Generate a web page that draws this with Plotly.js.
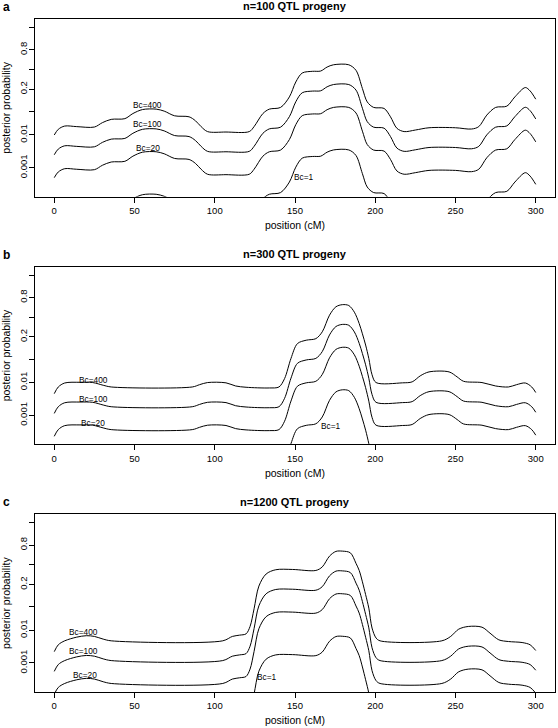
<!DOCTYPE html>
<html><head><meta charset="utf-8">
<script src="https://cdn.plot.ly/plotly-3.0.1.min.js"></script>
<style>html,body{margin:0;padding:0;background:#fff}#chart{width:558px;height:728px}</style>
</head><body><div id="chart"></div>
<script>
// ---- Data: positions (cM) and posterior log-odds ----
// Panel a: n=100 QTL progeny
const posA = [0,2.5,6.5,14,25,30,35.5,44,49,55,63.5,68.5,75,84,88,91.5,95.5,107,121.5,124.5,130,134,141,146.5,150.5,154.5,161,166,170,174,183.5,188,192,195,199,205.5,209.5,213.5,218,225,233.5,250,260,264.5,269.5,275,282,287,293.5,296.5,300];
const a_Bc400 = [-4.61,-4.21,-3.98,-4.02,-4.05,-3.74,-3.51,-3.46,-3.10,-2.82,-2.79,-2.93,-3.26,-3.33,-3.61,-4.02,-4.37,-4.40,-4.37,-4.02,-3.10,-2.79,-2.67,-1.93,-0.88,-0.25,-0.13,-0.11,0.17,0.33,0.33,-0.06,-1.34,-2.28,-2.67,-2.74,-3.33,-4.14,-4.37,-4.26,-4.10,-4.10,-4.19,-4.02,-3.21,-2.67,-2.58,-1.93,-1.27,-1.51,-2.09];
const a_Bc100 = [-6.00,-5.60,-5.37,-5.41,-5.44,-5.13,-4.90,-4.85,-4.49,-4.21,-4.18,-4.32,-4.65,-4.72,-5.00,-5.41,-5.76,-5.79,-5.76,-5.41,-4.49,-4.18,-4.06,-3.32,-2.27,-1.64,-1.52,-1.50,-1.22,-1.06,-1.06,-1.45,-2.73,-3.67,-4.06,-4.13,-4.72,-5.53,-5.76,-5.65,-5.49,-5.49,-5.58,-5.41,-4.60,-4.06,-3.97,-3.32,-2.66,-2.90,-3.48];
const a_Bc20 = [-7.61,-7.21,-6.98,-7.02,-7.05,-6.74,-6.51,-6.46,-6.10,-5.82,-5.79,-5.93,-6.26,-6.33,-6.61,-7.02,-7.37,-7.40,-7.37,-7.02,-6.10,-5.79,-5.67,-4.93,-3.88,-3.25,-3.13,-3.11,-2.83,-2.67,-2.67,-3.06,-4.34,-5.28,-5.67,-5.74,-6.33,-7.14,-7.37,-7.26,-7.10,-7.10,-7.19,-7.02,-6.21,-5.67,-5.58,-4.93,-4.27,-4.51,-5.09];
const a_Bc1 = [-10.60,-10.20,-9.97,-10.01,-10.04,-9.73,-9.50,-9.45,-9.09,-8.81,-8.78,-8.92,-9.25,-9.32,-9.60,-10.01,-10.36,-10.39,-10.36,-10.01,-9.09,-8.78,-8.66,-7.92,-6.87,-6.24,-6.12,-6.10,-5.82,-5.66,-5.66,-6.05,-7.33,-8.27,-8.66,-8.73,-9.32,-10.13,-10.36,-10.25,-10.09,-10.09,-10.18,-10.01,-9.20,-8.66,-8.57,-7.92,-7.26,-7.50,-8.08];

// Panel b: n=300 QTL progeny
const posB = [0,2.5,6.5,16,24,30.5,35.5,86,90.5,95.5,107,113,119.5,134,140,143.5,147.5,151.5,157,163,167,171.5,175.5,179.5,183.5,187,190,192,194,196,198,200.5,217,223,228,233.5,246,251,255,266.5,275,283,288,293.5,297.5,300];
const b_Bc400 = [-5.38,-4.91,-4.63,-4.58,-4.60,-4.79,-4.91,-4.91,-4.75,-4.60,-4.62,-4.84,-4.93,-4.98,-4.91,-4.32,-2.90,-1.86,-1.62,-1.51,-1.03,0.14,0.73,0.88,0.82,0.35,-0.45,-1.17,-1.96,-2.91,-4.05,-4.60,-4.62,-4.55,-4.13,-3.85,-3.85,-4.20,-4.51,-4.60,-4.84,-4.91,-4.75,-4.63,-4.91,-5.30];
const b_Bc100 = [-6.77,-6.30,-6.02,-5.97,-5.99,-6.18,-6.30,-6.30,-6.14,-5.99,-6.01,-6.23,-6.32,-6.37,-6.30,-5.71,-4.29,-3.25,-3.01,-2.90,-2.42,-1.25,-0.66,-0.51,-0.57,-1.04,-1.84,-2.56,-3.35,-4.30,-5.44,-5.99,-6.01,-5.94,-5.52,-5.24,-5.24,-5.59,-5.90,-5.99,-6.23,-6.30,-6.14,-6.02,-6.30,-6.69];
const b_Bc20 = [-8.38,-7.91,-7.63,-7.58,-7.60,-7.79,-7.91,-7.91,-7.75,-7.60,-7.62,-7.84,-7.93,-7.98,-7.91,-7.32,-5.90,-4.86,-4.62,-4.51,-4.03,-2.86,-2.27,-2.12,-2.18,-2.65,-3.45,-4.17,-4.96,-5.91,-7.05,-7.60,-7.62,-7.55,-7.13,-6.85,-6.85,-7.20,-7.51,-7.60,-7.84,-7.91,-7.75,-7.63,-7.91,-8.30];
const b_Bc1 = [-11.37,-10.90,-10.62,-10.57,-10.59,-10.78,-10.90,-10.90,-10.74,-10.59,-10.61,-10.83,-10.92,-10.97,-10.90,-10.31,-8.89,-7.85,-7.61,-7.50,-7.02,-5.85,-5.26,-5.11,-5.17,-5.64,-6.44,-7.16,-7.95,-8.90,-10.04,-10.59,-10.61,-10.54,-10.12,-9.84,-9.84,-10.19,-10.50,-10.59,-10.83,-10.90,-10.74,-10.62,-10.90,-11.29];

// Panel c: n=1200 QTL progeny
const posC = [0,2.5,6.5,14,20,25,30.5,35.5,105,111,115.5,119.5,122,124.5,127.5,132,138,148.5,163,167,171.5,175.5,179.5,184.5,188,190,192,194,196,198,200.5,203,241.5,247,252,258,266.5,271.5,277,283,291.5,296.5,300];
const c_Bc400 = [-6.11,-5.63,-5.35,-5.09,-4.99,-5.04,-5.23,-5.35,-5.35,-5.04,-4.95,-4.86,-4.34,-3.10,-1.50,-0.65,-0.35,-0.33,-0.40,-0.15,0.61,0.94,0.96,0.84,0.10,-0.40,-1.20,-2.10,-3.05,-4.45,-5.15,-5.35,-5.35,-5.04,-4.53,-4.34,-4.39,-4.81,-5.28,-5.40,-5.47,-5.63,-6.03];
const c_Bc100 = [-7.50,-7.02,-6.74,-6.48,-6.38,-6.43,-6.62,-6.74,-6.74,-6.43,-6.34,-6.25,-5.73,-4.49,-2.89,-2.04,-1.74,-1.72,-1.79,-1.54,-0.78,-0.45,-0.43,-0.55,-1.29,-1.79,-2.59,-3.49,-4.44,-5.84,-6.54,-6.74,-6.74,-6.43,-5.92,-5.73,-5.78,-6.20,-6.67,-6.79,-6.86,-7.02,-7.42];
const c_Bc20 = [-9.11,-8.63,-8.35,-8.09,-7.99,-8.04,-8.23,-8.35,-8.35,-8.04,-7.95,-7.86,-7.34,-6.10,-4.50,-3.65,-3.35,-3.33,-3.40,-3.15,-2.39,-2.06,-2.04,-2.16,-2.90,-3.40,-4.20,-5.10,-6.05,-7.45,-8.15,-8.35,-8.35,-8.04,-7.53,-7.34,-7.39,-7.81,-8.28,-8.40,-8.47,-8.63,-9.03];
const c_Bc1 = [-12.10,-11.62,-11.34,-11.08,-10.98,-11.03,-11.22,-11.34,-11.34,-11.03,-10.94,-10.85,-10.33,-9.09,-7.49,-6.64,-6.34,-6.32,-6.39,-6.14,-5.38,-5.05,-5.03,-5.15,-5.89,-6.39,-7.19,-8.09,-9.04,-10.44,-11.14,-11.34,-11.34,-11.03,-10.52,-10.33,-10.38,-10.80,-11.27,-11.39,-11.46,-11.62,-12.02];

// Categories and tick labels
const seriesNames = ['Bc=400','Bc=100','Bc=20','Bc=1'];
const panelTitles = ['n=100 QTL progeny','n=300 QTL progeny','n=1200 QTL progeny'];
const panelLetters = ['a','b','c'];
const xTickVals = [0,50,100,150,200,250,300];
const yTickProbs = [0.001,0.01,0.05,0.2,0.5,0.8,0.95];
const yTickText = ['0.001','0.01','','0.2','','0.8',''];

// ---- Drawing ----
const W = 558, H = 728;
const FONT = 'Liberation Sans, Arial, Helvetica, sans-serif';
const logit = p => Math.log(p / (1 - p));
const panels = [
  {pos: posA, series: [a_Bc400, a_Bc100, a_Bc20, a_Bc1], top: 19,
   labels: [[57.8,-2.51],[57.8,-3.86],[58.4,-5.49],[155.3,-7.54]]},
  {pos: posB, series: [b_Bc400, b_Bc100, b_Bc20, b_Bc1], top: 266.7,
   labels: [[24.2,-4.44],[24.2,-5.73],[24.4,-7.45],[172.3,-7.66]]},
  {pos: posC, series: [c_Bc400, c_Bc100, c_Bc20, c_Bc1], top: 514.3,
   labels: [[18.4,-4.73],[18.4,-6.06],[19.0,-7.75],[132.7,-7.87]]}
];
const plotH = 177.7, plotL = 35, plotR = 555;

const traces = [];
const annotations = [];
const layout = {
  width: W, height: H,
  margin: {l: 0, r: 0, t: 0, b: 0},
  paper_bgcolor: '#fff', plot_bgcolor: '#fff',
  font: {family: FONT, color: '#000', size: 9},
  showlegend: false,
  annotations: annotations
};

panels.forEach((p, i) => {
  const sfx = i === 0 ? '' : String(i + 1);
  const xa = 'x' + sfx, ya = 'y' + sfx;
  p.series.forEach((vals, j) => {
    traces.push({
      x: p.pos, y: vals, xaxis: xa, yaxis: ya, name: seriesNames[j],
      type: 'scatter', mode: 'lines',
      line: {color: '#000', width: 1, shape: 'spline', smoothing: 0.9},
      hoverinfo: 'skip', showlegend: false
    });
    annotations.push({
      xref: xa, yref: ya, x: p.labels[j][0], y: p.labels[j][1],
      text: seriesNames[j], showarrow: false,
      font: {family: FONT, size: 8.3, color: '#000'}
    });
  });
  const y0 = 1 - (p.top + plotH) / H, y1 = 1 - p.top / H;
  layout['xaxis' + sfx] = {
    domain: [plotL / W, plotR / W], anchor: ya,
    range: [-12, 312], tickvals: xTickVals,
    ticks: 'outside', ticklen: 5, tickwidth: 1, tickcolor: '#000',
    showline: true, linecolor: '#000', linewidth: 1, mirror: true,
    showgrid: false, zeroline: false, ticklabelstandoff: 0,
    tickfont: {family: FONT, size: 9.5, color: '#000'},
    title: {text: 'position (cM)', font: {family: FONT, size: 10.5, color: '#000'}, standoff: 6}
  };
  layout['yaxis' + sfx] = {
    domain: [y0, y1], anchor: xa,
    range: [-8.95, 3.55],
    tickvals: yTickProbs.map(logit), ticktext: yTickText, tickangle: -90,
    ticks: 'outside', ticklen: 5, tickwidth: 1, tickcolor: '#000',
    showline: true, linecolor: '#000', linewidth: 1, mirror: true,
    showgrid: false, zeroline: false, ticklabelstandoff: -2,
    tickfont: {family: FONT, size: 9.5, color: '#000'},
    title: {text: 'posterior probability', font: {family: FONT, size: 10.5, color: '#000'}, standoff: 6}
  };
  annotations.push({
    xref: 'paper', yref: 'paper', x: 295 / W, y: 1 - (p.top - 12.5) / H,
    xanchor: 'center', yanchor: 'middle', showarrow: false,
    text: '<b>' + panelTitles[i] + '</b>', font: {family: FONT, size: 11, color: '#000'}
  });
  annotations.push({
    xref: 'paper', yref: 'paper', x: 1 / W, y: 1 - (p.top - 12) / H,
    xanchor: 'left', yanchor: 'middle', showarrow: false,
    text: '<b>' + panelLetters[i] + '</b>', font: {family: FONT, size: 12, color: '#000'}
  });
});

Plotly.newPlot('chart', traces, layout, {staticPlot: true, displayModeBar: false});
</script>
</body></html>
